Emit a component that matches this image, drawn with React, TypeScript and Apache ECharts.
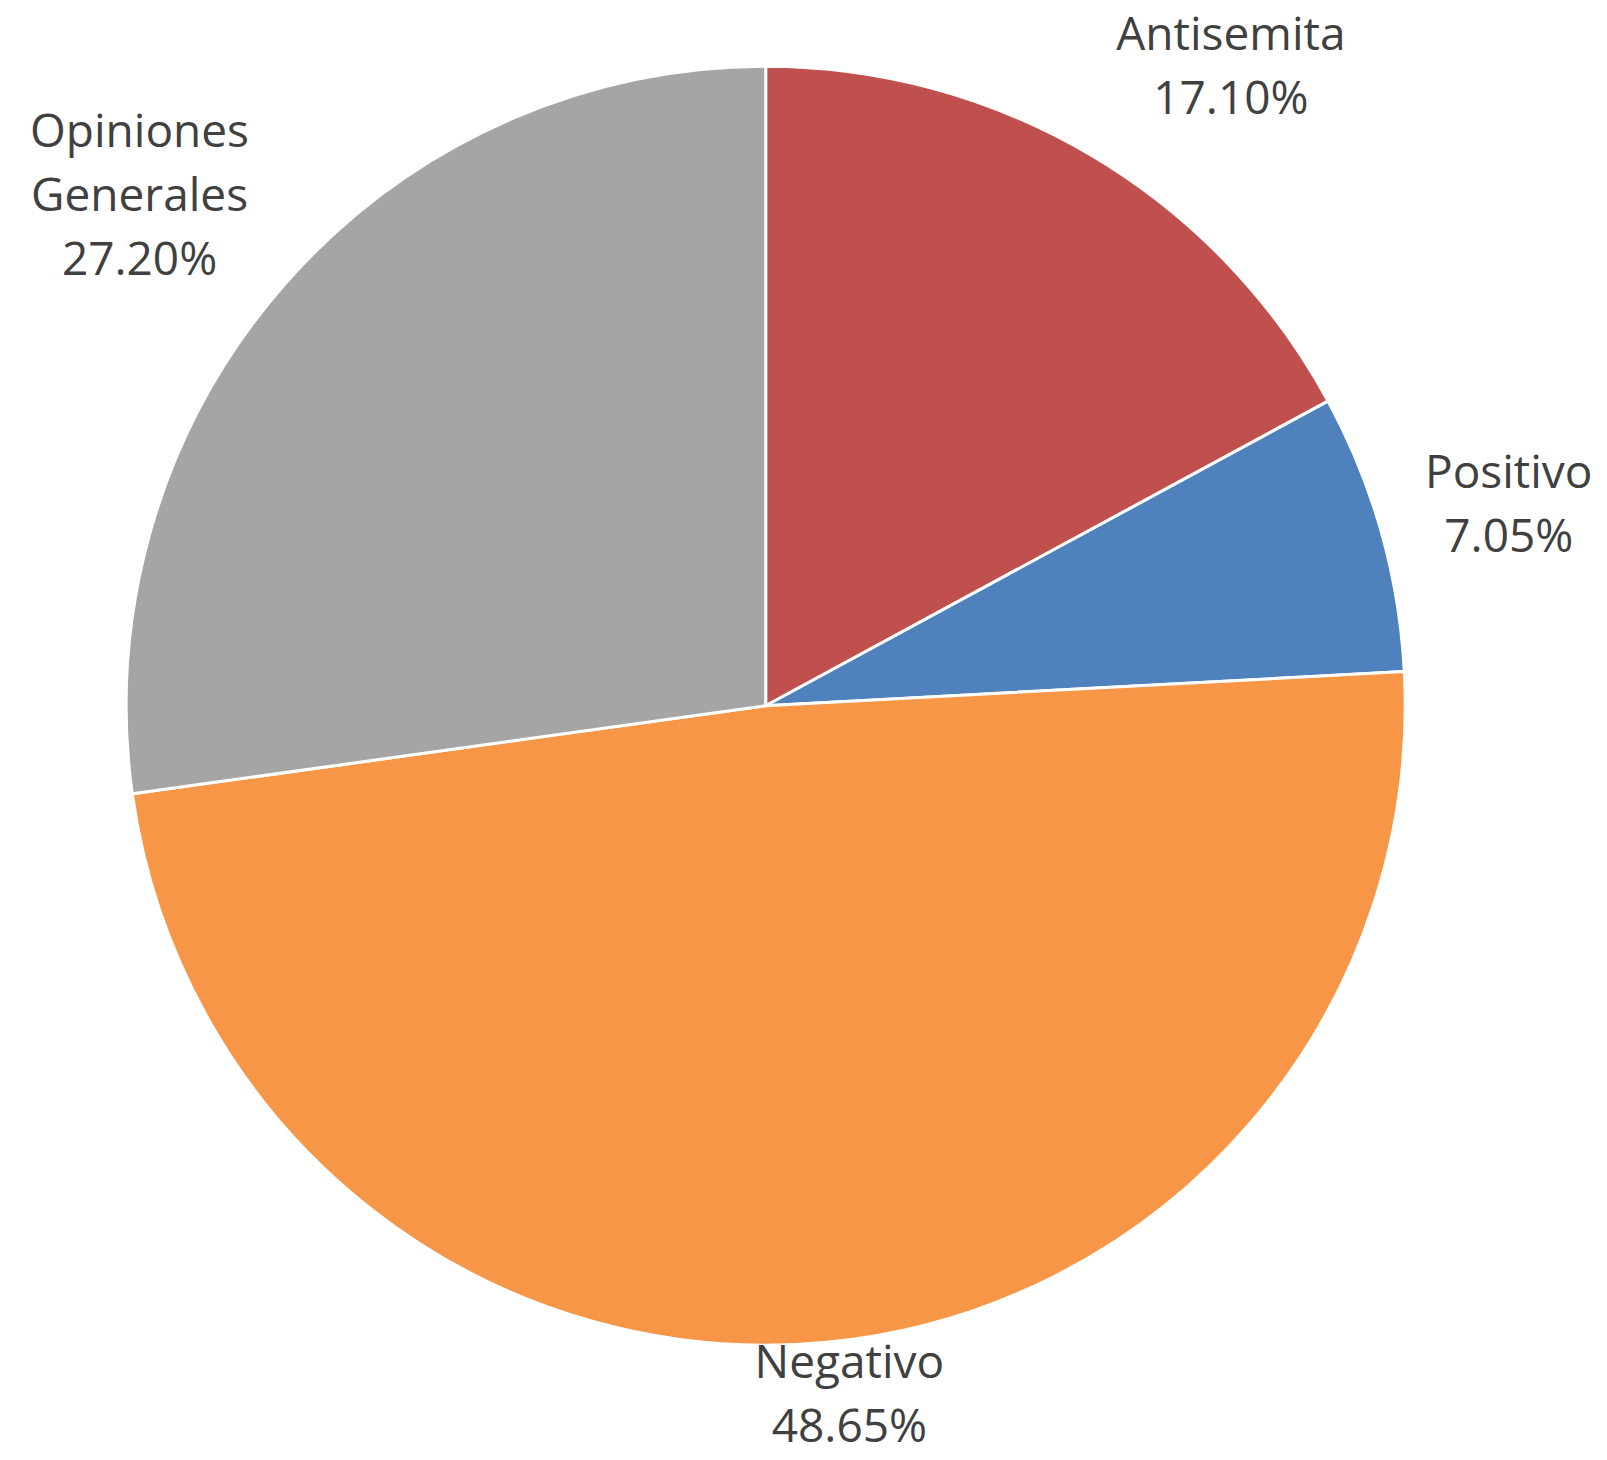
import React, { useEffect, useRef } from 'react';
import * as echarts from 'echarts';

// ---- data ----
const categories = ['Antisemita', 'Positivo', 'Negativo', 'Opiniones Generales'];
const shares = [17.1, 7.05, 48.65, 27.2];
const colors = ['#C0504D', '#4F81BD', '#F79646', '#A5A5A5'];

// ---- layout ----
const W = 1607;
const H = 1460;
const CX = 765.7;
const CY = 705.7;
const R = 638;
const BORDER = 3;
const GAP = 47;

export default function App() {
  const ref = useRef<HTMLDivElement>(null);
  useEffect(() => {
    const chart = echarts.init(ref.current!, null, { renderer: 'svg' });
    const total = shares.reduce((a, b) => a + b, 0);
    const mids = shares.map((v, i) => {
      const before = shares.slice(0, i).reduce((a, b) => a + b, 0);
      return ((before + v / 2) / total) * 2 * Math.PI;
    });
    chart.setOption({
      animation: false,
      backgroundColor: '#ffffff',
      series: [
        {
          type: 'pie',
          center: [CX, CY],
          radius: R + BORDER / 2,
          startAngle: 90,
          clockwise: true,
          avoidLabelOverlap: false,
          emphasis: { scale: false },
          data: categories.map((name, i) => ({
            name,
            value: shares[i],
            itemStyle: { color: colors[i] },
          })),
          itemStyle: { borderColor: '#ffffff', borderWidth: BORDER },
          label: {
            show: true,
            position: 'outside',
            formatter: (p: any) =>
              p.name.split(' ').join('\n') + '\n' + Number(p.value).toFixed(2) + '%',
            fontFamily: 'Open Sans',
            fontSize: 46,
            lineHeight: 64,
            color: '#404040',
            align: 'center',
          },
          labelLine: { show: false },
          labelLayout: (p: any) => {
            const a = mids[p.dataIndex];
            const ux = Math.sin(a);
            const uy = -Math.cos(a);
            const w = p.labelRect.width;
            const h = p.labelRect.height;
            const fx = Math.max(-1, Math.min(1, 2 * ux));
            let x = CX + ux * (R + GAP) + (w / 2) * fx;
            let y = CY + uy * (R + GAP) + (h / 2) * uy;
            x = Math.max(w / 2, Math.min(W - w / 2, x));
            y = Math.max(h / 2, Math.min(H - h / 2 - 4, y));
            return { x, y, align: 'center', verticalAlign: 'middle' };
          },
        },
      ],
    });
    return () => chart.dispose();
  }, []);
  return (
    <div
      ref={ref}
      style={{ position: 'absolute', left: 0, top: 0, width: W, height: H }}
    />
  );
}
